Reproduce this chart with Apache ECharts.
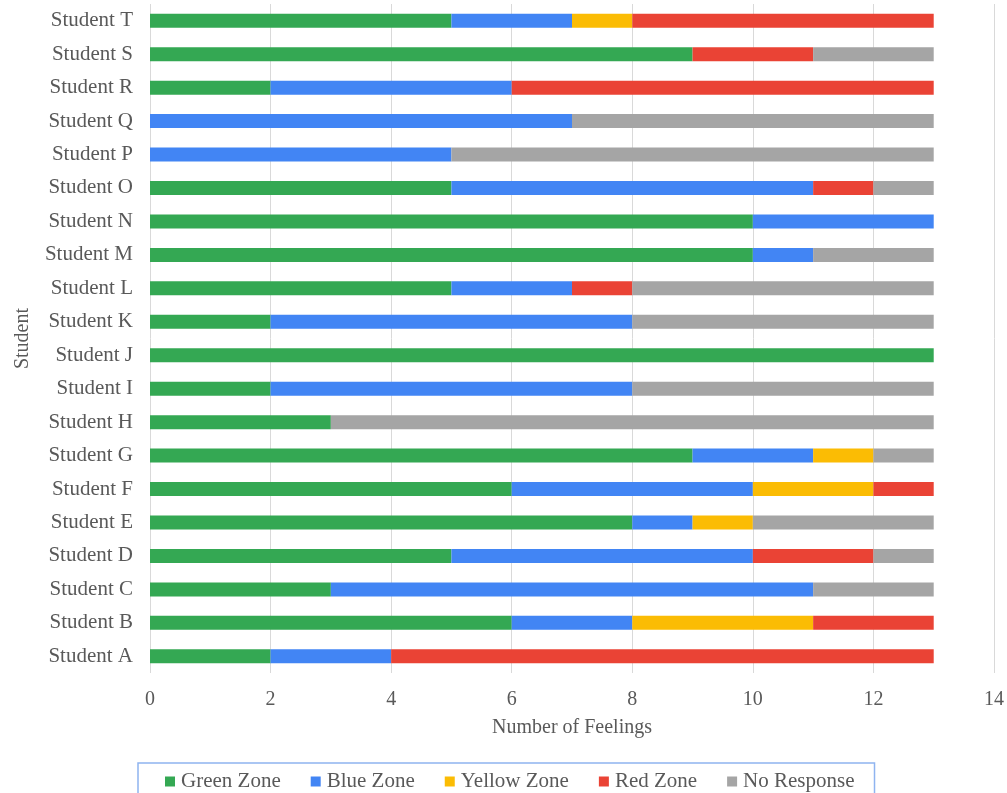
<!DOCTYPE html>
<html>
<head>
<meta charset="utf-8">
<script src="https://cdn.jsdelivr.net/npm/echarts@6/dist/echarts.min.js"></script>
<style>
  html, body { margin: 0; padding: 0; background: #fff; }
  #chart { width: 1007px; height: 793px; }
</style>
</head>
<body>
<div id="chart"></div>
<script>
// Students listed bottom-to-top (category axis starts at the bottom)
const students = ['Student A','Student B','Student C','Student D','Student E','Student F','Student G',
  'Student H','Student I','Student J','Student K','Student L','Student M','Student N',
  'Student O','Student P','Student Q','Student R','Student S','Student T'];

// Number of feelings reported per zone, A..T
const greenZone  = [2, 6, 3, 5, 8, 6, 9, 3, 2, 13, 2, 5, 10, 10, 5, 0, 0, 2, 9, 5];
const blueZone   = [2, 2, 8, 5, 1, 4, 2, 0, 6, 0, 6, 2, 1, 3, 6, 5, 7, 4, 0, 2];
const yellowZone = [0, 3, 0, 0, 1, 2, 1, 0, 0, 0, 0, 0, 0, 0, 0, 0, 0, 0, 0, 1];
const redZone    = [9, 2, 0, 2, 0, 1, 0, 0, 0, 0, 0, 1, 0, 0, 1, 0, 0, 7, 2, 5];
const noResponse = [0, 0, 2, 1, 3, 0, 1, 10, 5, 0, 5, 5, 2, 0, 1, 8, 6, 0, 2, 0];

const xTicks = { min: 0, max: 14, interval: 2 };

const textColor = '#595959';
const fontFamily = '"Liberation Serif", "DejaVu Serif", serif';
const fontSize = 21;

const seriesDefs = [
  ['Green Zone', greenZone, '#34a853'],
  ['Blue Zone', blueZone, '#4285f4'],
  ['Yellow Zone', yellowZone, '#fbbc04'],
  ['Red Zone', redZone, '#ea4335'],
  ['No Response', noResponse, '#a5a5a5']
];

const chart = echarts.init(document.getElementById('chart'), null, { renderer: 'canvas' });
chart.setOption({
  animation: false,
  textStyle: { fontFamily: fontFamily, color: textColor },
  grid: { left: 150, right: 12, top: 4, bottom: 120, containLabel: false },
  xAxis: {
    type: 'value',
    min: xTicks.min, max: xTicks.max, interval: xTicks.interval,
    name: 'Number of Feelings',
    nameLocation: 'middle',
    nameGap: 45,
    nameTextStyle: { fontSize: 20, color: textColor, fontFamily: fontFamily },
    axisLine: { show: false },
    axisTick: { show: false },
    axisLabel: { fontSize: 20, color: textColor, fontFamily: fontFamily, margin: 17 },
    splitLine: { show: true, lineStyle: { color: '#d9d9d9', width: 1 } }
  },
  yAxis: {
    type: 'category',
    data: students,
    name: 'Student',
    nameLocation: 'middle',
    nameGap: 117,
    nameRotate: 90,
    nameTextStyle: { fontSize: 20, color: textColor, fontFamily: fontFamily },
    axisLine: { show: false },
    axisTick: { show: false },
    axisLabel: { fontSize: fontSize, color: textColor, fontFamily: fontFamily, margin: 17 },
    splitLine: { show: false }
  },
  legend: {
    left: 138,
    top: 763,
    padding: [8, 20, 20, 27],
    borderColor: '#8fb4f0',
    borderWidth: 1.5,
    itemWidth: 10,
    itemHeight: 10,
    itemGap: 30,
    icon: 'rect',
    textStyle: { fontSize: fontSize, color: textColor, fontFamily: fontFamily, padding: [0, 0, 0, 1] },
    data: seriesDefs.map(s => s[0])
  },
  series: seriesDefs.map(([name, values, color]) => ({
    name: name,
    type: 'bar',
    stack: 'feelings',
    barWidth: 14,
    itemStyle: { color: color },
    data: values
  }))
});
</script>
</body>
</html>
